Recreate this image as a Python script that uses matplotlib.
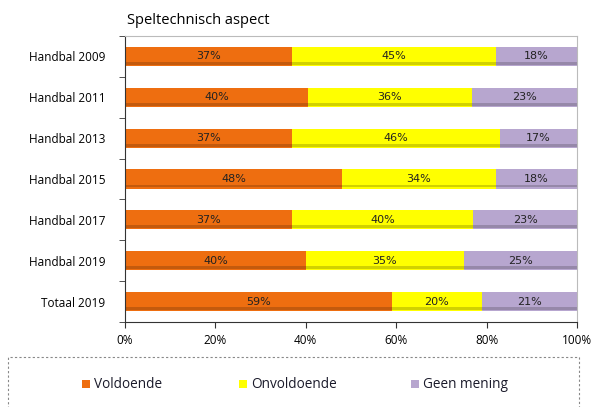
import matplotlib.pyplot as plt
from matplotlib.patches import Rectangle
import numpy as np

categories = ['Handbal 2009', 'Handbal 2011', 'Handbal 2013', 'Handbal 2015',
              'Handbal 2017', 'Handbal 2019', 'Totaal 2019']
voldoende = [37, 40, 37, 48, 37, 40, 59]
onvoldoende = [45, 36, 46, 34, 40, 35, 20]
geen_mening = [18, 23, 17, 18, 23, 25, 21]
series_names = ['Voldoende', 'Onvoldoende', 'Geen mening']
colors = ['#EE6E10', '#FFFF00', '#B7A6CF']

W, H = 593, 407
fig = plt.figure(figsize=(W / 100, H / 100), dpi=100)
ax = fig.add_axes([125 / W, 1 - 322 / H, 452 / W, 286 / H])

# 100% stacked: scale each row to its total (rounded labels do not always add to 100)
data = np.array([voldoende, onvoldoende, geen_mening], dtype=float)
shares = data / data.sum(axis=0) * 100

y = np.arange(len(categories))
left = np.zeros(len(categories))
for vals, labels, name, col in zip(shares, data, series_names, colors):
    ax.barh(y, vals, left=left, height=0.47, color=col, edgecolor='none', label=name)
    # darker lower strip to hint at the shaded bars
    ax.barh(y + 0.17, vals, left=left, height=0.07, color='black', alpha=0.18, edgecolor='none')
    for yi, l, v, lab in zip(y, left, vals, labels):
        ax.text(l + v / 2, yi, f'{int(lab)}%', ha='center', va='center', fontsize=8,
                family=['Liberation Sans Narrow', 'DejaVu Sans'], color='#222222')
    left += vals

ax.set_ylim(len(categories) - 0.5, -0.5)
ax.set_xlim(0, 100)
ax.set_xticks(range(0, 101, 20))
ax.set_xticklabels([f'{t}%' for t in range(0, 101, 20)], fontsize=8.5, family='Open Sans')
ax.set_yticks(y)
ax.set_yticklabels(categories, fontsize=8.5, family='Open Sans')
ax.tick_params(axis='y', length=0, pad=14)
ax.set_yticks(np.arange(-0.5, len(categories) + 0.5, 1), minor=True)
ax.tick_params(axis='y', which='minor', length=4, color='#333333')
ax.tick_params(axis='x', length=4, color='#333333', pad=5)

for side in ['top', 'right']:
    ax.spines[side].set_color('#BBBBBB')
for side in ['left', 'bottom']:
    ax.spines[side].set_color('#333333')

fig.text(127 / W, 1 - 20 / H, 'Speltechnisch aspect', fontsize=10.5, family='Open Sans',
         ha='left', va='center')

# dashed legend frame
fig.patches.append(Rectangle((8 / W, -0.02), 571 / W, 0.02 + 1 - 357 / H,
                             transform=fig.transFigure, fill=False, edgecolor='#888888',
                             linestyle=(0, (2, 2)), lw=0.8))
# legend entries
leg_x = [82, 239, 411]
for x0, name, col in zip(leg_x, series_names, colors):
    fig.patches.append(Rectangle((x0 / W, 1 - 388 / H), 8 / W, 8 / H,
                                 transform=fig.transFigure, facecolor=col, edgecolor='none'))
    fig.text((x0 + 12) / W, 1 - 384 / H, name, fontsize=9.8, family='Open Sans',
             ha='left', va='center', color='#1a1a2a')

fig.savefig('out.png', dpi=100)
